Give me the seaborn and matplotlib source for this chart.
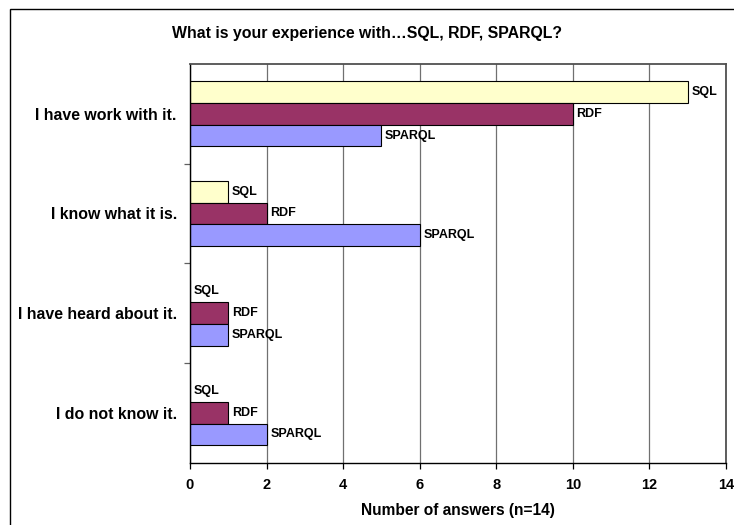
import matplotlib
matplotlib.use("Agg")
import matplotlib.pyplot as plt
from matplotlib.patches import Rectangle
from matplotlib.ticker import FixedLocator, MultipleLocator
import pandas as pd
import seaborn as sns

# Survey answers
categories = ["I have work with it.", "I know what it is.",
              "I have heard about it.", "I do not know it."]
technologies = ["SQL", "RDF", "SPARQL"]
sql_counts = [13, 1, 0, 0]
rdf_counts = [10, 2, 1, 1]
sparql_counts = [5, 6, 1, 2]
colors = ["#FFFFCC", "#993366", "#9999FF"]

series = {"SQL": sql_counts, "RDF": rdf_counts, "SPARQL": sparql_counts}
rows = []
for tech in technologies:
    for cat, val in zip(categories, series[tech]):
        rows.append({"category": cat, "tech": tech, "count": val})
df = pd.DataFrame(rows)

sns.set_theme(style="white")
plt.rcParams["font.family"] = ["Liberation Sans", "DejaVu Sans"]
plt.rcParams["font.weight"] = "bold"
plt.rcParams["text.color"] = "black"
plt.rcParams["axes.labelcolor"] = "black"
plt.rcParams["xtick.color"] = "black"
plt.rcParams["ytick.color"] = "black"

fig = plt.figure(figsize=(7.34, 5.25), dpi=100)
W, H = 734, 525
ax_h = 462.5 - 64
ax = fig.add_axes([190 / W, 1 - 462.5 / H, 536 / W, ax_h / H])

sns.barplot(data=df, y="category", x="count", hue="tech", order=categories,
            hue_order=technologies, palette=colors, saturation=1, orient="h",
            width=0.655, edgecolor="black", linewidth=0.8, legend=False, ax=ax)

# Series name next to the end of each bar
for tech, container in zip(technologies, ax.containers):
    for bar in container:
        ax.annotate(tech, xy=(bar.get_width(), bar.get_y() + bar.get_height() / 2),
                    xytext=(2.6, 0), textcoords="offset points",
                    va="center", ha="left", fontsize=9, fontweight="bold",
                    color="black")

ax.set_xlim(0, 14)
ax.xaxis.set_major_locator(MultipleLocator(2))
ax.xaxis.grid(True, color="#707070", linewidth=0.9)
ax.yaxis.grid(False)
ax.set_axisbelow(True)

ax.set_xlabel("Number of answers (n=14)", fontsize=11.2, fontweight="bold",
              color="black")
ax.xaxis.set_label_coords(0.5, -(510 - 462.5) / ax_h)
ax.xaxis.label.set_va("center")
ax.set_ylabel("")
ax.tick_params(axis="x", direction="out", length=4, width=0.9, color="black",
               labelsize=10.5, pad=7, bottom=True, labelcolor="black")
ax.tick_params(axis="y", which="major", length=0, pad=9.5, labelsize=11.4,
               labelcolor="black")
ax.yaxis.set_minor_locator(FixedLocator([0.5, 1.5, 2.5]))
ax.tick_params(axis="y", which="minor", direction="out", length=4, width=0.9,
               color="#606060", left=True)
for lbl in ax.get_xticklabels() + ax.get_yticklabels():
    lbl.set_fontweight("bold")

for side in ["left", "bottom"]:
    ax.spines[side].set_color("black")
    ax.spines[side].set_linewidth(1.0)
for side in ["top", "right"]:
    ax.spines[side].set_color("#505050")
    ax.spines[side].set_linewidth(1.3)

fig.text(0.5, 1 - 38 / H, "What is your experience with…SQL, RDF, SPARQL?",
         ha="center", va="baseline", fontsize=11.4, fontweight="bold",
         color="black")

# Chart area border
fig.patches.append(Rectangle((10 / W, -0.1), 1.2, 1.1 - 9 / H, transform=fig.transFigure,
                             fill=False, edgecolor="black", linewidth=1.0))

fig.savefig("out.png", dpi=100)
